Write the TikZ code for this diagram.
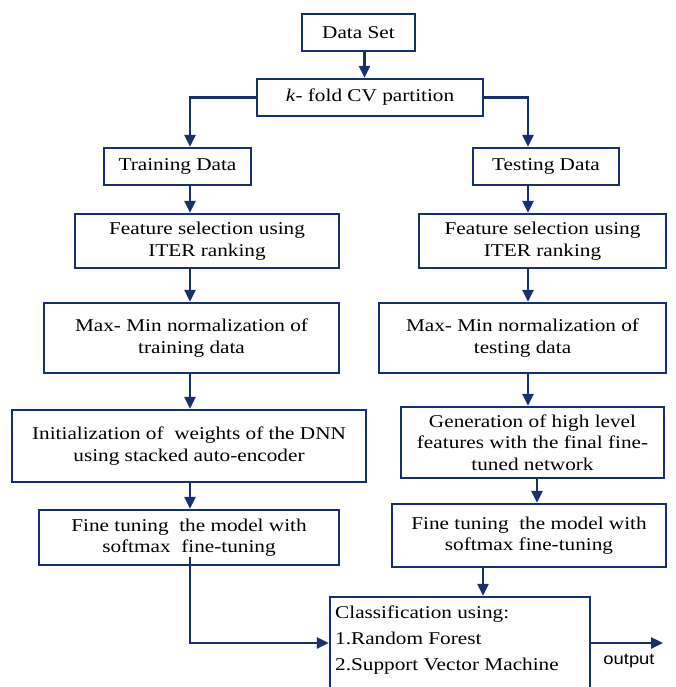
\documentclass[tikz,border=0pt]{standalone}
\usepackage{fontspec}
\setmainfont[FakeStretch=1.18]{Liberation Serif}
\newfontfamily\outfont[FakeStretch=1.15]{Liberation Sans}
\usetikzlibrary{arrows.meta}
\definecolor{boxblue}{RGB}{24,48,112}
\begin{document}
\begin{tikzpicture}[x=1pt, y=-1pt,
		block/.style = {draw=boxblue, line width=2.2pt, align=center, inner sep=2pt, font=\fontsize{18}{21.5}\selectfont},
		line/.style = {draw=boxblue, line width=2.4pt, -{Triangle[length=12pt,width=11pt]}}]
				\useasboundingbox (0,0) rectangle (676,687);

				\node[block, minimum width=113pt, minimum height=37pt] (data) at (358.5,32.5) {Data Set};
				\node[block, minimum width=226pt, minimum height=37pt] (kfold) at (370,97.5) {\textit{k}- fold CV partition};
				\node[block, minimum width=147pt, minimum height=37pt] (train) at (177.5,166.5) {Training Data};
				\node[block, minimum width=146pt, minimum height=37pt] (test) at (546,166.5) {Testing Data};

				\node[block, minimum width=264pt, minimum height=54pt] (featl) at (207,241) {Feature selection using\\ITER ranking};
				\node[block, minimum width=247pt, minimum height=54pt] (featr) at (542.5,241) {Feature selection using\\ITER ranking};
				\node[block, minimum width=295pt, minimum height=70pt] (norml) at (191.5,338) {Max- Min normalization of\\training data};
				\node[block, minimum width=287pt, minimum height=70pt] (normr) at (522.5,338) {Max- Min normalization of\\testing data};
				\node[block, minimum width=354pt, minimum height=72pt] (init) at (189,446) {Initialization of~ weights of the DNN\\using stacked auto-encoder};
				\node[block, minimum width=263pt, minimum height=71pt] (gen) at (532.5,442.5) {Generation of high level\\features with the final fine-\\tuned network};
				\node[block, minimum width=300pt, minimum height=55pt] (finel) at (189,537.5) {Fine tuning~ the model with\\softmax~ fine-tuning};
				\node[block, minimum width=274pt, minimum height=63pt] (finer) at (529,535.5) {Fine tuning~ the model with\\softmax fine-tuning};

				\node[block, minimum width=260pt, minimum height=100pt] (class) at (460,647) {};
				\node[anchor=west, align=left, inner sep=2pt, font=\fontsize{18}{26}\selectfont] (classtxt) at (333,640) {Classification using:\\1.Random Forest\\2.Support Vector Machine};
				\coordinate (out) at (663,643);
				\node[font=\outfont\fontsize{16}{18}\selectfont] (outlbl) at (629,661) {output};

				\draw[line] ([xshift=6pt]data.south) to ([xshift=6pt]data.south |- kfold.north);
				\draw[line] (kfold.west) -| ([xshift=12.5pt]train.north);
				\draw[line] (kfold.east) -| ([xshift=-18pt]test.north);

				\draw[line] ([xshift=12.5pt]train.south) to ([xshift=12.5pt]train.south |- featl.north);
				\draw[line] ([xshift=12.5pt]train.south |- featl.south) to ([xshift=12.5pt]train.south |- norml.north);
				\draw[line] ([xshift=12.5pt]train.south |- norml.south) to ([xshift=12.5pt]train.south |- init.north);
				\draw[line] ([xshift=12.5pt]train.south |- init.south) to ([xshift=12.5pt]train.south |- finel.north);
				\draw[line] ([xshift=1pt,yshift=-19.5pt]finel.center) |- (class.west |- out);

				\draw[line] ([xshift=-18pt]test.south) to ([xshift=-18pt]test.south |- featr.north);
				\draw[line] ([xshift=-18pt]test.south |- featr.south) to ([xshift=-18pt]test.south |- normr.north);
				\draw[line] ([xshift=-18pt]test.south |- normr.south) to ([xshift=-18pt]test.south |- gen.north);
				\draw[line] ([xshift=4.5pt]gen.south) to ([xshift=4.5pt]gen.south |- finer.north);
				\draw[line] ([xshift=-46pt]finer.south) to ([xshift=-46pt]finer.south |- class.north);

				\draw[line] (class.east |- out) to (out);
			\end{tikzpicture}
\end{document}
